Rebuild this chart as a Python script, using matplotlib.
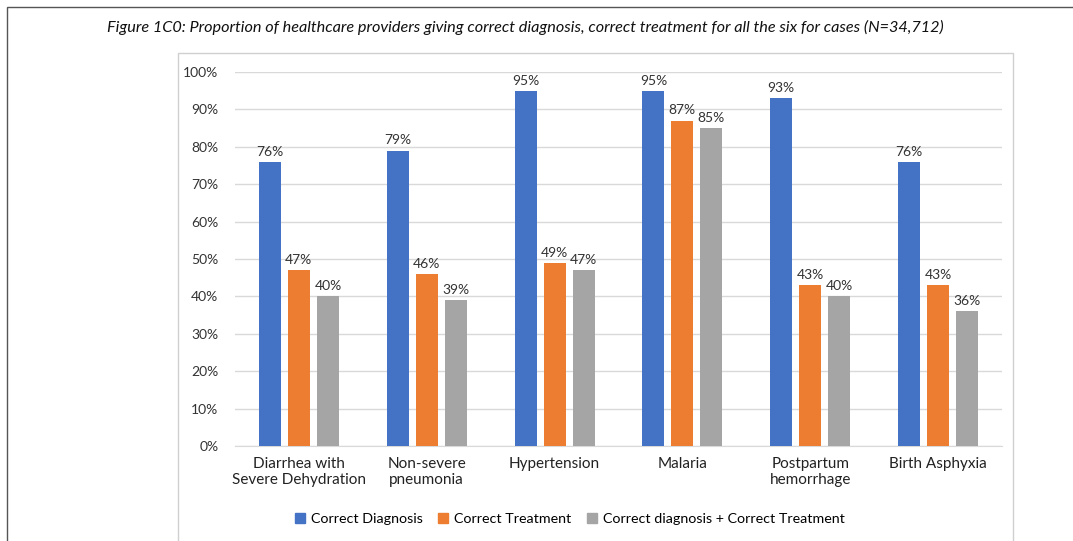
import matplotlib.pyplot as plt
import matplotlib.patches as mpatches
import numpy as np

plt.rcParams['font.family'] = ['Lato', 'DejaVu Sans']

categories = ["Diarrhea with\nSevere Dehydration", "Non-severe\npneumonia", "Hypertension",
              "Malaria", "Postpartum\nhemorrhage", "Birth Asphyxia"]
series_names = ["Correct Diagnosis", "Correct Treatment", "Correct diagnosis + Correct Treatment"]
correct_diagnosis = [76, 79, 95, 95, 93, 76]
correct_treatment = [47, 46, 49, 87, 43, 43]
diag_plus_treat = [40, 39, 47, 85, 40, 36]
yticks = [0, 10, 20, 30, 40, 50, 60, 70, 80, 90, 100]
title = "Figure 1C0: Proportion of healthcare providers giving correct diagnosis, correct treatment for all the six for cases (N=34,712)"

colors = ["#4472C4", "#ED7D31", "#A5A5A5"]
W, H = 1073, 541
fig = plt.figure(figsize=(W / 100, H / 100), dpi=100)
fig.patch.set_facecolor("white")

# outer frame and inner chart frame
fig.add_artist(mpatches.Rectangle((7 / W, -0.05), 1.1, 1 - 7 / H + 0.05, transform=fig.transFigure,
                                  fill=False, edgecolor="#555555", linewidth=1.0))
fig.add_artist(mpatches.Rectangle((178 / W, -0.05), (1013 - 178) / W, 1 - 53 / H + 0.05,
                                  transform=fig.transFigure, fill=False, edgecolor="#D0D0D0", linewidth=1.0))

fig.text(525.5 / W, 1 - 27 / H, title, ha="center", va="center", fontsize=11.7, style="italic",
         color="#111111")

ax = fig.add_axes([235 / W, 1 - 446 / H, (1002 - 235) / W, (446 - 72) / H])
x = np.arange(len(categories))
bw = 0.172
pitch = 0.227
for i, vals in enumerate([correct_diagnosis, correct_treatment, diag_plus_treat]):
    pos = x + (i - 1) * pitch
    ax.bar(pos, vals, width=bw, color=colors[i], label=series_names[i], zorder=3)
    for p, v in zip(pos, vals):
        ax.annotate(f"{v}%", (p, v), xytext=(0, 3), textcoords="offset points",
                    ha="center", va="bottom", fontsize=10, color="#333333")

ax.set_xlim(-0.5, len(categories) - 0.5)
ax.set_ylim(0, 100)
ax.set_yticks(yticks)
ax.set_yticklabels([f"{t}%" for t in yticks], fontsize=10, color="#333333")
ax.set_xticks(x)
ax.set_xticklabels(categories, fontsize=11, color="#222222")
ax.tick_params(axis="both", length=0)
ax.tick_params(axis="y", pad=12)
ax.tick_params(axis="x", pad=8)
ax.grid(axis="y", color="#D9D9D9", linewidth=1, zorder=0)
for s in ["top", "right", "left"]:
    ax.spines[s].set_visible(False)
ax.spines["bottom"].set_color("#D9D9D9")

handles = [mpatches.Patch(color=c) for c in colors]
fig.legend(handles, series_names, loc="center", bbox_to_anchor=(0.531, 1 - 519 / H), ncol=3,
           frameon=False, fontsize=10.3, handlelength=0.7, handleheight=0.7, handletextpad=0.4,
           columnspacing=1.1)

fig.savefig("out.png", dpi=100)
